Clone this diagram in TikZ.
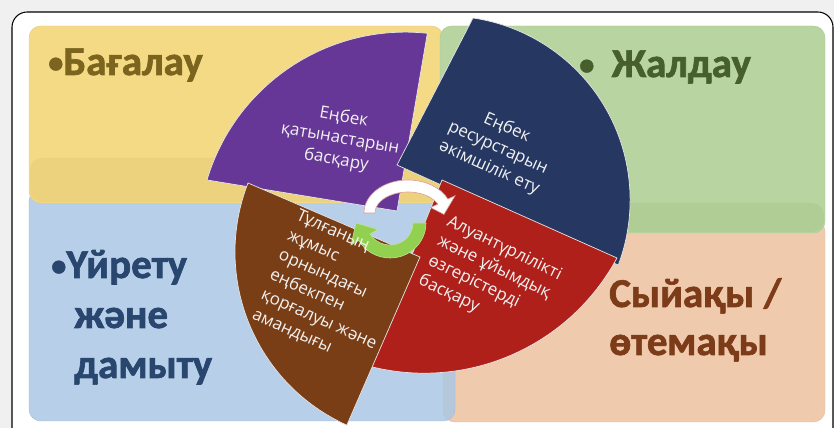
\documentclass[tikz,border=0pt]{standalone}
\usepackage{fontspec}
\setmainfont{Open Sans}
\newfontfamily\headfont{Carlito Bold}[FakeBold=1.6]
\newcommand{\hbul}{\raisebox{2pt}{\fontsize{26}{26}\selectfont•}}
\usetikzlibrary{positioning, calc}
\definecolor{cY}{RGB}{245, 218, 133}
\definecolor{cYd}{RGB}{236, 210, 124}
\definecolor{cG}{RGB}{184, 212, 160}
\definecolor{cGd}{RGB}{176, 205, 150}
\definecolor{cB}{RGB}{171, 199, 228}
\definecolor{cP}{RGB}{240, 202, 172}
\definecolor{cPu}{RGB}{102, 55, 150}
\definecolor{cN}{RGB}{38, 56, 98}
\definecolor{cR}{RGB}{175, 32, 26}
\definecolor{cBr}{RGB}{122, 62, 22}
\definecolor{cAr}{RGB}{146, 208, 80}
\definecolor{tY}{RGB}{122, 100, 30}
\definecolor{tG}{RGB}{70, 95, 45}
\definecolor{tB}{RGB}{40, 70, 110}
\definecolor{tP}{RGB}{125, 60, 25}
\tikzstyle{Quad}=[rounded corners=10pt,
		line width=0.4pt]
\tikzstyle{Wedge}=[draw=white!80!gray,
		line width=0.6pt]
\tikzstyle{WedgeText}=[text=white!95!black,
		inner sep=0pt,
		font=\fontsize{14.5}{18.5}\selectfont]
\tikzstyle{Heading}=[anchor=base west,
		inner sep=0pt,
		font=\headfont\fontsize{35}{40}\selectfont]

\begin{document}
\begin{tikzpicture}[x=0.03cm,y=0.03cm]
  \clip (0,0) rectangle (834,428);
  \fill[black!6] (0,0) rectangle (834,428);
  \draw[fill=white,line width=0.9pt,rounded corners=13pt] (12,416) rectangle (833,-20);

  % quadrants
  \draw[Quad,fill=cP,draw=cP!85!gray] (443,208) rectangle (825,6);
  \draw[Quad,fill=cB,draw=cB!85!gray,fill opacity=0.85] (29,238) rectangle (455,7);
  \draw[Quad,fill=cY,draw=cY!85!gray] (29,402) rectangle (443,225);
  \fill[cYd,rounded corners=10pt] (30,270) rectangle (443,226);
  \draw[Quad,fill=cG,draw=cG!85!gray] (440,402) rectangle (825,195);
  \fill[cGd,rounded corners=10pt] (441,225) rectangle (824,196);

  % wedges
  \draw[Wedge,fill=cPu] (397,217) -- (207,248) arc[start angle=163.4, end angle=83.9, radius=207] -- cycle;
  \draw[Wedge,fill=cN] (397,263) -- (473,410) arc[start angle=81.6, end angle=-20.7, radius=184] -- cycle;
  \draw[Wedge,fill=cR] (442,248) -- (617,170) arc[start angle=-28.3, end angle=-105, radius=219] -- cycle;
  \draw[Wedge,fill=cBr] (420,171) -- (248,245) arc[start angle=158.7, end angle=245.7, radius=190] -- cycle;

  % cycle arrows
  \coordinate (Wc) at (408,215);
  \coordinate (Gc) at (390,205);
  \draw[fill=white,draw=cR!45,line width=0.5pt] ($(Wc)+(180:44 and 33)$)
    arc[start angle=180, end angle=25, x radius=44, y radius=33]
    -- ($(Wc)+(25:52 and 41)$) -- ($(Wc)+(-3:36 and 27)$) -- ($(Wc)+(25:25 and 13)$)
    -- ($(Wc)+(25:33 and 21)$)
    arc[start angle=25, end angle=180, x radius=33, y radius=21] -- cycle;
  \draw[fill=cAr,draw=cAr!60!white,line width=0.5pt] ($(Gc)+(0:36 and 35)$)
    arc[start angle=0, end angle=-150, x radius=36, y radius=35]
    -- ($(Gc)+(-150:45 and 44)$) -- ($(Gc)+(-180:34 and 31)$) -- ($(Gc)+(-150:14 and 13)$)
    -- ($(Gc)+(-150:23 and 22)$)
    arc[start angle=-150, end angle=0, x radius=23, y radius=22] -- cycle;

  % wedge texts
  \node[WedgeText,rotate=-10,align=center] (relTxt) at (340,289) {Еңбек\\қатынастарын\\басқару};
  \node[WedgeText,rotate=-24,align=center] (admTxt) at (498,280) {Еңбек\\ресурстарын\\әкімшілік ету};
  \node[WedgeText,rotate=-26,align=left] (divTxt) at (490,150) {Алуантүрлілікті\\және ұйымдық\\өзгерістерді\\басқару};
  \node[WedgeText,rotate=-24,align=left] (safeTxt) at (332,138) {Тұлғаның\\жұмыс\\орнындағы\\еңбекпен\\қорғалуы және\\амандығы};

  % quadrant headings
  \node[Heading,text=tY] (eval) at (48,353) {\hbul Бағалау};
  \node[Heading,text=tG] (hire) at (579,351) {\hbul\hspace{15pt}Жалдау};
  \node[Heading,text=tB] (train) at (51,150) {\hbul Үйрету};
  \node[Heading,text=tB] (trainB) at (74,100) {және};
  \node[Heading,text=tB] (trainC) at (74,50) {дамыту};
  \node[Heading,text=tP] (pay) at (609,121) {Сыйақы /};
  \node[Heading,text=tP] (payB) at (609,73) {өтемақы};
\end{tikzpicture}
\end{document}
